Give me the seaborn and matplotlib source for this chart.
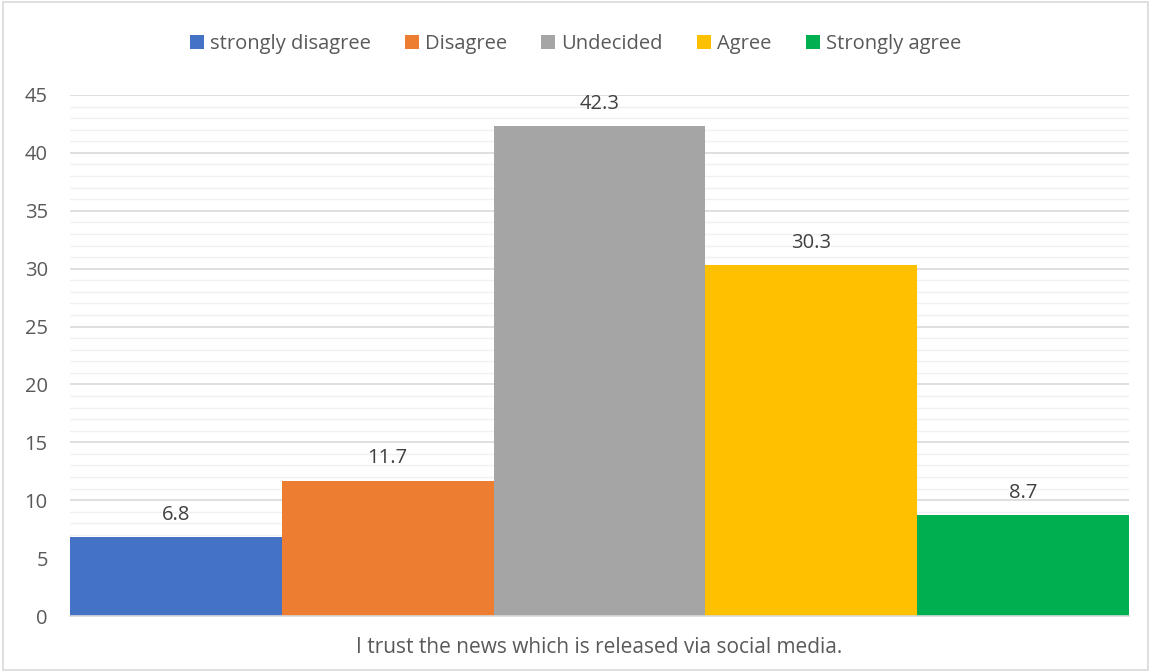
import matplotlib
matplotlib.use("Agg")
import matplotlib.pyplot as plt
import seaborn as sns
import pandas as pd
from matplotlib.patches import Rectangle
from matplotlib.ticker import MultipleLocator

category = "I trust the news which is released via social media."
responses = ["strongly disagree", "Disagree", "Undecided", "Agree", "Strongly agree"]
values = [6.8, 11.7, 42.3, 30.3, 8.7]
colors = ["#4472C4", "#ED7D31", "#A5A5A5", "#FFC000", "#00B050"]

df = pd.DataFrame({"category": [category] * len(responses), "response": responses, "value": values})

sns.set_theme(style="white")
plt.rcParams["font.family"] = ["Open Sans", "DejaVu Sans"]

fig = plt.figure(figsize=(11.51, 6.72), dpi=100)
ax = fig.add_axes([70 / 1151, 1 - 616 / 672, (1129 - 70) / 1151, (616 - 95) / 672])

sns.barplot(data=df, x="category", y="value", hue="response", hue_order=responses,
            palette=colors, width=1.0, gap=0, ax=ax, saturation=1, legend=True, linewidth=0)

ax.set_ylim(0, 45)
ax.set_xlim(-0.5, 0.5)
ax.yaxis.set_major_locator(MultipleLocator(5))
ax.yaxis.set_minor_locator(MultipleLocator(1))
ax.grid(axis="y", which="major", color="#D9D9D9", linewidth=1.2)
ax.grid(axis="y", which="minor", color="#F0F0F0", linewidth=1.0)
ax.set_axisbelow(True)
for s in ["top", "right", "left"]:
    ax.spines[s].set_visible(False)
ax.spines["bottom"].set_color("#D9D9D9")
ax.spines["bottom"].set_linewidth(1.2)
ax.tick_params(axis="y", labelsize=14.5, colors="#595959", length=0, pad=16, which="both")
ax.tick_params(axis="x", labelsize=15, colors="#595959", length=0, pad=15)
ax.set_xlabel("")
ax.set_ylabel("")

for cont in ax.containers:
    ax.bar_label(cont, fmt="%.1f", padding=9, fontsize=14.5, color="#404040")

handles, labels = ax.get_legend_handles_labels()
ax.legend_.remove()
fig.legend(handles, labels, loc="center", bbox_to_anchor=(0.5, 1 - 44 / 672), ncol=5,
           frameon=False, fontsize=14.5, labelcolor="#595959", handlelength=0.7,
           handleheight=0.7, handletextpad=0.3, columnspacing=1.7)

fig.patches.append(Rectangle((0.003, 0.003), 0.994, 0.994, transform=fig.transFigure,
                             fill=False, edgecolor="#D9D9D9", linewidth=1.2))

fig.savefig("out.png", dpi=100)
